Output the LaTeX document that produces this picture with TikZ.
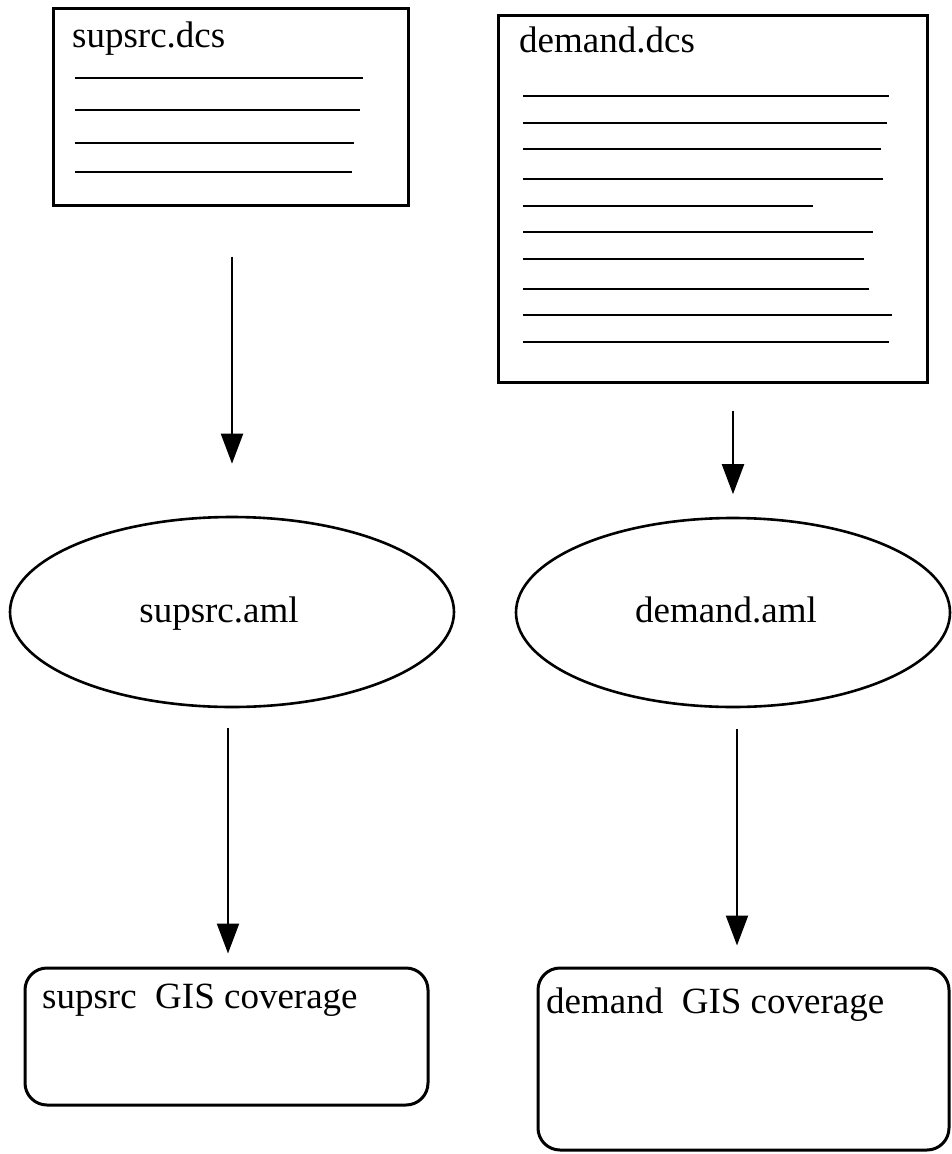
\documentclass[tikz,border=0pt]{standalone}
\usepackage{fontspec}
\setmainfont{Liberation Serif}
\usetikzlibrary{arrows.meta,shapes.geometric}
\begin{document}
\begin{tikzpicture}[x=1pt,y=-1pt,
  fnt/.style={font=\fontsize{37}{44}\selectfont},
  doc/.style={draw, line width=3pt, rectangle, inner sep=0pt},
  ell/.style={draw, line width=2.6pt, ellipse, inner sep=0pt},
  cov/.style={draw, line width=3pt, rounded corners=22pt, rectangle, inner sep=0pt},
  txt/.style={inner sep=0pt, anchor=base west, fnt},
  ctxt/.style={inner sep=0pt, anchor=base, fnt},
  rulel/.style={line width=2.8pt},
  arr/.style={line width=2.2pt, -{Triangle[length=30pt,width=22pt]}}]

\useasboundingbox (0,0) rectangle (952,1154);

% supsrc.dcs document
\node[doc, minimum width=355pt, minimum height=197pt] (supdcs) at (230.5,106.5) {};
\node[txt] (supdcst) at (72,47) {supsrc.dcs};
\foreach \y/\e in {78/363,110/360,143/354,172/352}
  \draw[rulel] (75,\y) -- (\e,\y);

% demand.dcs document
\node[doc, minimum width=429pt, minimum height=367pt] (demdcs) at (712.5,198.5) {};
\node[txt] (demdcst) at (519,52) {demand.dcs};
\foreach \y/\e in {96/889,123/887,149/881,179/883,206/813,232/873,259/864,289/869,315/892,342/889}
  \draw[rulel] (523,\y) -- (\e,\y);

% aml ellipses
\node[ell, minimum width=444pt, minimum height=190pt] (supaml) at (232,612) {};
\node[ctxt] (supamlt) at (219,622) {supsrc.aml};
\node[ell, minimum width=434pt, minimum height=189pt] (demaml) at (733,612.5) {};
\node[ctxt] (demamlt) at (726,622) {demand.aml};

% GIS coverages
\node[cov, minimum width=403pt, minimum height=137pt] (supgis) at (226.5,1036.5) {};
\node[txt] (supgist) at (42,1008) {supsrc\ \ GIS coverage};
\node[cov, minimum width=411pt, minimum height=182pt] (demgis) at (743.5,1059) {};
\node[txt] (demgist) at (546,1013) {demand\ \ GIS coverage};

% connectors
\draw[arr, shorten <=50pt, shorten >=52pt] (supdcs.south -| supaml.north) -- (supaml.north);
\draw[arr, shorten <=27pt, shorten >=22.5pt] (demdcs.south -| demaml.north) -- (demaml.north);
\draw[arr, shorten <=20pt, shorten >=13pt] ([xshift=-4pt]supaml.south) -- ([xshift=-4pt]supaml.south |- supgis.north);
\draw[arr, shorten <=21pt, shorten >=21pt] ([xshift=4pt]demaml.south) -- ([xshift=4pt]demaml.south |- demgis.north);
\end{tikzpicture}
\end{document}
